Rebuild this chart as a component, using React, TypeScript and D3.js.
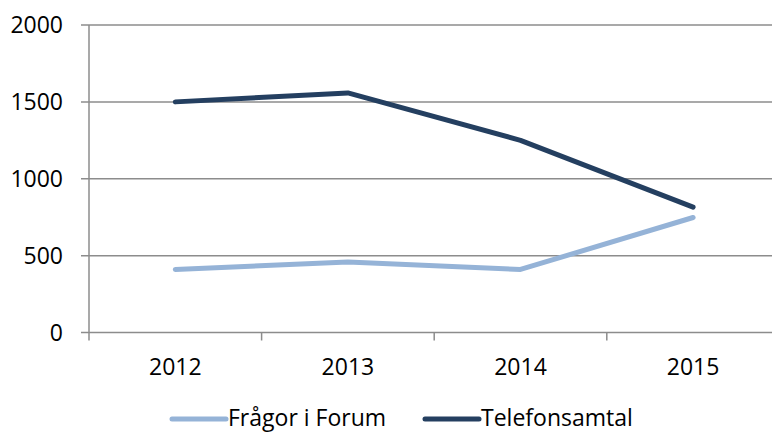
import React, { useRef, useEffect } from 'react';
import * as d3 from 'd3';

const years = ['2012', '2013', '2014', '2015'];
const forumValues = [410, 458, 410, 748];
const phoneValues = [1500, 1558, 1250, 815];
const yTicks = [0, 500, 1000, 1500, 2000];
const seriesNames = ['Frågor i Forum', 'Telefonsamtal'];
const seriesColors = ['#95B3D7', '#243F60'];

export default function App() {
  const svgRef = useRef<SVGSVGElement>(null);

  useEffect(() => {
    const width = 772;
    const height = 433;
    const svg = d3.select(svgRef.current).attr('width', width).attr('height', height);
    svg.selectAll('*').remove();

    const left = 89;
    const bandW = 172.6;
    const x = d3.scaleBand().domain(years).range([left, left + bandW * years.length]);
    const y = d3.scaleLinear().domain([0, 2000]).range([332.5, 25]);
    const font = '"Open Sans", sans-serif';
    const fontSize = 23;

    // gridlines + y labels
    svg.selectAll('.grid')
      .data(yTicks)
      .join('line')
      .attr('x1', 81)
      .attr('x2', width)
      .attr('y1', (d) => y(d))
      .attr('y2', (d) => y(d))
      .attr('stroke', '#8c8c8c')
      .attr('stroke-width', 1.5);

    svg.selectAll('.ylab')
      .data(yTicks)
      .join('text')
      .attr('x', 63)
      .attr('y', (d) => y(d) + 8)
      .attr('text-anchor', 'end')
      .attr('font-family', font)
      .attr('font-size', fontSize)
      .attr('fill', '#000')
      .text((d) => d);

    // y axis line
    svg.append('line')
      .attr('x1', left).attr('x2', left)
      .attr('y1', y(2000)).attr('y2', y(0) + 8)
      .attr('stroke', '#8c8c8c').attr('stroke-width', 1.5);

    // x ticks
    svg.selectAll('.xtick')
      .data(years.slice(1))
      .join('line')
      .attr('x1', (d) => x(d)!)
      .attr('x2', (d) => x(d)!)
      .attr('y1', y(0))
      .attr('y2', y(0) + 8)
      .attr('stroke', '#8c8c8c').attr('stroke-width', 1.5);

    svg.selectAll('.xlab')
      .data(years)
      .join('text')
      .attr('x', (d) => x(d)! + x.bandwidth() / 2)
      .attr('y', 375)
      .attr('text-anchor', 'middle')
      .attr('font-family', font)
      .attr('font-size', fontSize)
      .text((d) => d);

    const line = d3.line<number>()
      .x((d, i) => x(years[i])! + x.bandwidth() / 2)
      .y((d) => y(d));

    [forumValues, phoneValues].forEach((vals, i) => {
      svg.append('path')
        .attr('d', line(vals))
        .attr('fill', 'none')
        .attr('stroke', seriesColors[i])
        .attr('stroke-width', 5)
        .attr('stroke-linecap', 'round')
        .attr('stroke-linejoin', 'round');
    });

    // legend (kept just inside the bottom edge)
    const legendX = [172, 425];
    seriesNames.forEach((name, i) => {
      svg.append('line')
        .attr('x1', legendX[i]).attr('x2', legendX[i] + 54)
        .attr('y1', 419).attr('y2', 419)
        .attr('stroke', seriesColors[i]).attr('stroke-width', 5)
        .attr('stroke-linecap', 'round');
      svg.append('text')
        .attr('x', legendX[i] + 56)
        .attr('y', 426)
        .attr('font-family', font)
        .attr('font-size', fontSize)
        .text(name);
    });
  }, []);

  return <svg ref={svgRef} style={{ position: 'absolute', left: 0, top: 0, display: 'block' }} />;
}
